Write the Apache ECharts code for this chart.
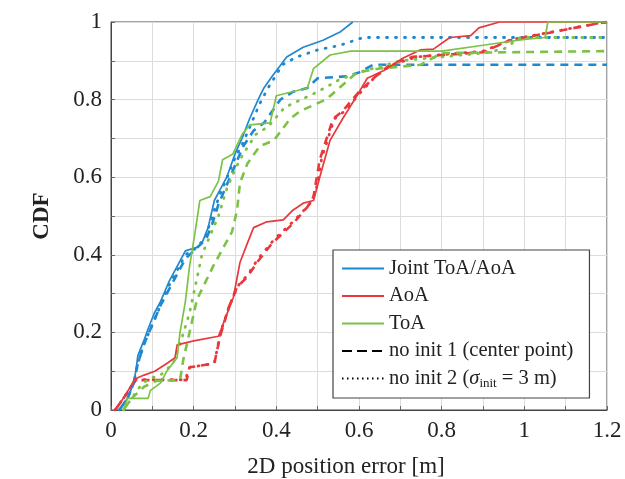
<!DOCTYPE html>
<html><head><meta charset="utf-8">
<script src="https://cdn.jsdelivr.net/npm/echarts@6/dist/echarts.min.js"></script>
<style>html,body{margin:0;padding:0;background:#fff}#c{width:625px;height:479px}</style>
</head><body><div id="c"></div>
<script>
const xTicks = [0, 0.2, 0.4, 0.6, 0.8, 1, 1.2];
const yTicks = [0, 0.2, 0.4, 0.6, 0.8, 1];

const jointSolid = [[0.02,0],[0.04,0.03],[0.055,0.07],[0.06,0.1],[0.065,0.14],[0.08,0.18],[0.09,0.21],[0.105,0.25],[0.12,0.28],[0.14,0.33],[0.16,0.37],[0.18,0.41],[0.21,0.42],[0.22,0.43],[0.235,0.47],[0.25,0.54],[0.265,0.57],[0.28,0.6],[0.3,0.66],[0.317,0.7],[0.335,0.75],[0.356,0.8],[0.37,0.83],[0.39,0.86],[0.425,0.91],[0.465,0.935],[0.513,0.953],[0.554,0.974],[0.585,1.0]];
const jointDashed = [[0.02,0],[0.04,0.03],[0.055,0.07],[0.065,0.12],[0.08,0.17],[0.1,0.22],[0.12,0.27],[0.14,0.31],[0.16,0.35],[0.18,0.39],[0.2,0.41],[0.23,0.44],[0.245,0.48],[0.26,0.53],[0.28,0.58],[0.3,0.63],[0.32,0.68],[0.345,0.72],[0.37,0.74],[0.39,0.77],[0.41,0.8],[0.44,0.82],[0.475,0.83],[0.5,0.855],[0.57,0.86],[0.6,0.87],[0.635,0.89],[1.2,0.89]];
const jointDotted = [[0.02,0],[0.04,0.03],[0.055,0.07],[0.065,0.12],[0.08,0.17],[0.1,0.22],[0.12,0.27],[0.14,0.32],[0.16,0.36],[0.18,0.4],[0.21,0.42],[0.23,0.45],[0.245,0.5],[0.265,0.56],[0.285,0.61],[0.3,0.65],[0.32,0.69],[0.34,0.74],[0.36,0.79],[0.38,0.83],[0.415,0.89],[0.45,0.91],[0.5,0.928],[0.554,0.94],[0.61,0.96],[1.2,0.96]];

const aoaSolid = [[0.01,0],[0.03,0.03],[0.058,0.08],[0.08,0.09],[0.106,0.1],[0.135,0.12],[0.155,0.135],[0.16,0.168],[0.2,0.178],[0.26,0.19],[0.285,0.26],[0.296,0.29],[0.312,0.38],[0.33,0.43],[0.345,0.47],[0.377,0.485],[0.417,0.49],[0.44,0.515],[0.465,0.533],[0.49,0.54],[0.505,0.6],[0.53,0.695],[0.56,0.75],[0.595,0.81],[0.62,0.855],[0.66,0.875],[0.707,0.907],[0.748,0.928],[0.78,0.93],[0.82,0.96],[0.87,0.965],[0.89,0.985],[0.94,1.0],[1.2,1.0]];
const aoaDashed = [[0.01,0],[0.03,0.03],[0.06,0.077],[0.183,0.077],[0.19,0.11],[0.25,0.12],[0.264,0.19],[0.285,0.265],[0.305,0.317],[0.33,0.343],[0.353,0.38],[0.39,0.43],[0.44,0.48],[0.475,0.523],[0.49,0.55],[0.505,0.645],[0.537,0.75],[0.56,0.77],[0.6,0.82],[0.635,0.855],[0.675,0.89],[0.73,0.91],[0.9,0.922],[0.965,0.953],[1.07,0.974],[1.18,0.997],[1.2,1.0]];
const aoaDotted = [[0.01,0],[0.03,0.03],[0.06,0.078],[0.18,0.078],[0.19,0.11],[0.25,0.12],[0.265,0.2],[0.287,0.27],[0.307,0.32],[0.332,0.35],[0.356,0.39],[0.395,0.44],[0.445,0.49],[0.48,0.53],[0.495,0.56],[0.51,0.65],[0.54,0.75],[0.565,0.77],[0.605,0.82],[0.64,0.86],[0.68,0.89],[0.74,0.91],[0.9,0.925],[0.97,0.955],[1.07,0.975],[1.18,0.997],[1.2,1.0]];

const toaSolid = [[0.03,0],[0.04,0.03],[0.09,0.03],[0.095,0.05],[0.12,0.07],[0.135,0.1],[0.16,0.135],[0.167,0.2],[0.18,0.28],[0.19,0.37],[0.203,0.455],[0.215,0.54],[0.24,0.55],[0.26,0.59],[0.27,0.645],[0.295,0.66],[0.317,0.71],[0.336,0.735],[0.385,0.74],[0.4,0.81],[0.475,0.83],[0.49,0.88],[0.53,0.915],[0.58,0.925],[0.8,0.925],[0.9,0.94],[1.0,0.955],[1.05,0.96],[1.057,1.0],[1.2,1.0]];
const toaDashed = [[0.03,0],[0.05,0.03],[0.08,0.06],[0.11,0.075],[0.167,0.077],[0.175,0.13],[0.19,0.2],[0.208,0.285],[0.247,0.37],[0.293,0.46],[0.305,0.515],[0.312,0.585],[0.33,0.635],[0.36,0.68],[0.394,0.695],[0.433,0.75],[0.457,0.77],[0.52,0.8],[0.595,0.87],[0.65,0.88],[0.75,0.89],[0.8,0.92],[1.2,0.925]];
const toaDotted = [[0.03,0],[0.05,0.03],[0.07,0.06],[0.09,0.08],[0.12,0.09],[0.15,0.12],[0.17,0.18],[0.19,0.25],[0.2,0.3],[0.21,0.35],[0.22,0.4],[0.24,0.45],[0.26,0.5],[0.28,0.57],[0.3,0.62],[0.32,0.66],[0.35,0.71],[0.38,0.73],[0.42,0.78],[0.5,0.82],[0.55,0.85],[0.6,0.87],[0.7,0.9],[0.8,0.91],[0.9,0.92],[0.95,0.93],[0.99,0.96],[1.2,0.96]];

const legendNames = ['Joint ToA/AoA', 'AoA', 'ToA', 'no init 1 (center point)', 'no init 2'];

const BLUE = '#1f88cf', RED = '#e8383d', GREEN = '#7cc246';
const DASH = [8, 6], DOT = [1, 8];
const F = 'Liberation Serif';

function ln(name, data, color, type, width, cap) {
  return { name: name, type: 'line', data: data, showSymbol: false, symbol: 'none', smooth: false,
    animation: false, silent: true,
    lineStyle: { color: color, width: width, type: type, cap: cap || 'butt' },
    itemStyle: { color: color } };
}

const series = [
  ln('jd', jointDashed, BLUE, DASH, 2.6),
  ln('jo', jointDotted, BLUE, DOT, 2.8, 'round'),
  ln('ad', aoaDashed, RED, DASH, 2.6),
  ln('ao', aoaDotted, RED, DOT, 2.8, 'round'),
  ln('td', toaDashed, GREEN, DASH, 2.6),
  ln('to', toaDotted, GREEN, DOT, 2.8, 'round'),
  ln(legendNames[0], jointSolid, BLUE, 'solid', 1.7),
  ln(legendNames[1], aoaSolid, RED, 'solid', 1.7),
  ln(legendNames[2], toaSolid, GREEN, 'solid', 1.7),
  ln(legendNames[3], [], '#000', [10, 5], 2.4),
  ln(legendNames[4], [], '#000', [1.5, 3.5], 1.5)
];

const chart = echarts.init(document.getElementById('c'), null, { renderer: 'canvas' });
function lab(v, ticks) {
  for (const t of ticks) if (Math.abs(v - t) < 1e-6) return String(t);
  return '';
}
const axisLine = { show: true, lineStyle: { color: '#444', width: 1 } };
const axisTick = { show: true, inside: true, length: 4, lineStyle: { color: '#666' } };
const splitLine = { show: true, lineStyle: { color: '#dcdcdc', width: 1 } };
chart.setOption({
  animation: false,
  grid: { left: 111, right: 18, top: 22, bottom: 69, containLabel: false, outerBoundsMode: 'none',
    show: true, borderColor: '#444', borderWidth: 1, backgroundColor: 'transparent' },
  xAxis: {
    type: 'value', min: 0, max: 1.2, interval: 0.1,
    axisLine: axisLine, axisTick: axisTick, splitLine: splitLine,
    name: '2D position error [m]', nameLocation: 'middle', nameGap: 45,
    nameTextStyle: { fontFamily: F, fontSize: 23, color: '#222', padding: [0, 26, 0, 0] },
    axisLabel: { fontFamily: F, fontSize: 23, color: '#222', margin: 9, formatter: v => lab(v, xTicks), showMinLabel: true, showMaxLabel: true, hideOverlap: false }
  },
  yAxis: {
    type: 'value', min: 0, max: 1, interval: 0.1,
    axisLine: axisLine, axisTick: axisTick, splitLine: splitLine,
    name: 'CDF', nameLocation: 'middle', nameGap: 57,
    nameTextStyle: { fontFamily: F, fontSize: 23, fontWeight: 'bold', color: '#222' },
    axisLabel: { fontFamily: F, fontSize: 23, color: '#222', margin: 9, formatter: v => lab(v, yTicks), hideOverlap: false }
  },
  legend: {
    show: true,
    left: 333, top: 250, orient: 'vertical',
    data: legendNames,
    selectedMode: false,
    backgroundColor: '#fff', borderColor: '#444', borderWidth: 1.2, borderRadius: 0,
    padding: [8, 16, 8, 8], itemGap: 6.5, itemWidth: 42, itemHeight: 14,
    itemStyle: { opacity: 0 },
    textStyle: {
      fontFamily: F, fontSize: 20.5, color: '#222',
      rich: {
        a: { fontFamily: F, fontSize: 20.5, color: '#222' },
        i: { fontFamily: F, fontSize: 20.5, fontStyle: 'italic', color: '#222' },
        s: { fontFamily: F, fontSize: 13, color: '#222', padding: [10, 0, 0, 0] }
      }
    },
    formatter: function (n) {
      if (n === 'no init 2') return '{a|no init 2 (}{i|σ}{s|init}{a| = 3 m)}';
      return n;
    }
  },
  series: series
});
</script></body></html>
